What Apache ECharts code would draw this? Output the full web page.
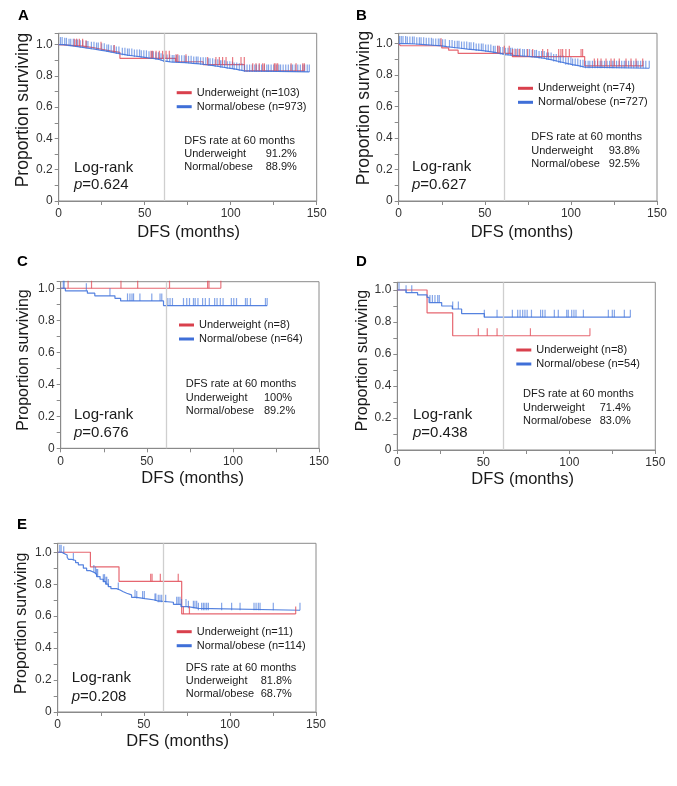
<!DOCTYPE html>
<html><head><meta charset="utf-8">
<script src="https://cdn.jsdelivr.net/npm/echarts@6/dist/echarts.min.js"></script>
<style>html,body{margin:0;padding:0;background:#fff}#c{width:677px;height:786px}</style>
</head><body><div id="c"></div>
<script>
// ---------------- DATA ----------------
const panelLetters = ['A', 'B', 'C', 'D', 'E'];
const redNames = ['Underweight (n=103)', 'Underweight (n=74)', 'Underweight (n=8)', 'Underweight (n=8)', 'Underweight (n=11)'];
const blueNames = ['Normal/obese (n=973)', 'Normal/obese (n=727)', 'Normal/obese (n=64)', 'Normal/obese (n=54)', 'Normal/obese (n=114)'];
const rateTitle = 'DFS rate at 60 months';
const redRate60 = ['91.2%', '93.8%', '100%', '71.4%', '81.8%'];
const blueRate60 = ['88.9%', '92.5%', '89.2%', '83.0%', '68.7%'];
const pValues = ['0.624', '0.627', '0.676', '0.438', '0.208'];
const xAxisTitle = 'DFS (months)';
const yAxisTitle = 'Proportion surviving';
const xTickValues = [0, 50, 100, 150];
const yTickValues = [0, 0.2, 0.4, 0.6, 0.8, 1.0];
const refLineMonth = 61.5;

// Panel A
const aRedSteps = [[0,1],[1,0.99],[14,0.98],[20,0.97],[25,0.96],[30,0.95],[35.6,0.912],[68,0.89],[84,0.872],[108,0.832],[142.8,0.832]];
const aRedCensor = [9.1,10.4,12,13.9,15.9,24.6,32.3,53.7,54.6,56.6,58.5,60.4,62.4,64.3,68.2,69.2,74,86.6,91.4,93.4,95.3,97.3,101.1,106,107.9,112.8,114.7,116.6,118.6,119.6,125.4,126.3,127.3,135.1,138,141.9,142.8];
const aBlueSteps = [[0,1],[3,0.995],[6,0.99],[9,0.985],[12,0.98],[15,0.975],[18,0.97],[21,0.965],[24,0.96],[27,0.953],[30,0.947],[33,0.94],[36,0.932],[40,0.927],[44,0.921],[48,0.915],[52,0.91],[56,0.903],[59,0.896],[61,0.889],[65,0.886],[70,0.884],[74,0.88],[78,0.876],[82,0.871],[86,0.865],[90,0.858],[94,0.851],[98,0.845],[102,0.838],[105,0.832],[108,0.825],[145.7,0.825]];
const aBlueCensor = [1,2,3.5,4.5,6,7,8.5,10,11,12.5,14,16,17,19,20.5,22,23,25,26.5,28,29,30.5,32,33.5,35,37,38.5,40,41,42.5,44,45.5,47,48,49.5,51,52.5,54,55,56.5,58,59.5,61,63,64.5,66,67,68.5,70,71.5,73,74,75.5,77,78.5,80,81,82.5,84,85.5,87,88,89.5,91,92.5,94,95,96.5,98,99.5,101,102,103.5,105,106.5,108,109.5,111,112.5,114,115,116.5,118,119.5,121,122,123.5,125,126.5,128,129,130.5,132,133.5,135,136,137.5,139,140.5,142,143,144.5,145.7];

// Panel B
const bRedSteps = [[0,1],[1,0.986],[25,0.972],[29,0.958],[34.5,0.938],[66,0.917],[108,0.858],[142,0.858]];
const bRedCensor = [24.6,57.5,58.4,61.3,64.2,66.2,68.1,70,74.9,77.8,83.6,86.5,92.9,94.2,95.2,97.1,99.1,105.9,106.8,113.6,115.5,117.5,120.4,123.3,125.2,128.1,132,134.9,137.8,141.7];
const bBlueSteps = [[0,1],[5,0.997],[10,0.993],[15,0.989],[20,0.985],[25,0.98],[28,0.975],[32,0.97],[36,0.965],[40,0.96],[45,0.953],[50,0.946],[55,0.938],[59,0.93],[62,0.925],[67,0.921],[72,0.917],[77,0.912],[81,0.905],[85,0.896],[89,0.886],[93,0.876],[97,0.866],[101,0.858],[105,0.85],[108,0.843],[145.5,0.843]];
const bBlueCensor = [0.5,1.5,2.5,4,5,6.5,8,9,10.5,12,13,14.5,16,17.5,19,20,21.5,23,24,25.5,27,29.5,31,32.5,34,35,36.5,38,39.5,41,42,43.5,45,46.5,48,49,50.5,52,53.5,55,56,57.5,59,60.5,62,63.5,65,66,67.5,69,70.5,72,73,74.5,76,77.5,79,80,81.5,83,84.5,86,87,88.5,90,91.5,93,94,95.5,97,98.5,100,101,102.5,104,105.5,107,108.5,110,111,112.5,114,115.5,117,118,119.5,121,122.5,124,125,126.5,128,129.5,131,132,133.5,135,136.5,138,139,140.5,142,143.5,145.5];

// Panel C
const cRedSteps = [[0,1],[93,1]];
const cRedCensor = [4.3,17.9,35,44.7,63.2,85.3,86.1,93];
const cBlueSteps = [[0,1],[2.7,0.984],[15.5,0.969],[19.8,0.953],[31.5,0.937],[34.8,0.921],[59.7,0.892],[119.9,0.892]];
const cBlueCensor = [1.5,2,14.9,28.6,38.8,40.2,41.4,42.3,46,52.9,57.7,58.7,62.2,63.5,64.9,71.3,73.2,74.8,77.1,78.1,79.7,82.4,84,86.3,89.4,90.8,92.7,94.3,99.1,100.5,102.1,107.3,108.3,110.2,118.9,119.9];

// Panel D
const dRedSteps = [[0,1],[17.3,0.857],[32.2,0.714],[112,0.714]];
const dRedCensor = [47.1,52.3,58,77.4,112];
const dBlueSteps = [[0,1],[5.1,0.983],[11.8,0.969],[17.3,0.954],[18.5,0.921],[25.8,0.9],[32,0.881],[37.4,0.852],[50.6,0.83],[135.5,0.83]];
const dBlueCensor = [1,5.1,8.4,19,20.4,21.9,23.5,24.4,32.2,35.5,50.6,58,66.9,70,71.4,72.9,74.2,75.5,78,83.3,84.5,85.9,91.3,93.6,98.5,99.4,101.4,102.7,103.9,108.2,122.7,125,126.2,132,135.5];

// Panel E
const eRedSteps = [[0,1],[19,0.909],[35.6,0.818],[72,0.614],[138.2,0.614]];
const eRedCensor = [54,54.8,59.6,70,73,76.5,138.2];
const eBlueSteps = [[0,1],[2.3,0.991],[4,0.983],[5.5,0.969],[6.2,0.956],[8.1,0.948],[10.4,0.935],[12,0.921],[14.9,0.9],[16.8,0.885],[18.8,0.873],[21.3,0.862],[22.6,0.848],[24.6,0.831],[26.5,0.816],[27.9,0.8],[29.4,0.785],[30.9,0.772],[34.2,0.764],[36.2,0.753],[38.1,0.743],[40.1,0.733],[42.9,0.718],[45.9,0.71],[50.7,0.701],[56.5,0.695],[58,0.687],[67.2,0.674],[71.6,0.66],[75.5,0.649],[81.7,0.637],[140.7,0.637]];
const eBlueCensor = [1.2,2,3.5,9.1,21,22,22.6,23.2,26.5,27.2,28,28.5,29.4,35.2,44.9,45.9,49.3,50.3,56.5,57,58.4,59.4,60.4,62.7,69.1,70,71,71.9,74.5,75.9,78.8,79.7,80.7,81.7,83.6,84.6,85.5,86.5,87.5,95.2,101,105.9,114,115.2,116.5,117.5,125.2,140.7];

const redSteps = [aRedSteps, bRedSteps, cRedSteps, dRedSteps, eRedSteps];
const redCensor = [aRedCensor, bRedCensor, cRedCensor, dRedCensor, eRedCensor];
const blueSteps = [aBlueSteps, bBlueSteps, cBlueSteps, dBlueSteps, eBlueSteps];
const blueCensor = [aBlueCensor, bBlueCensor, cBlueCensor, dBlueCensor, eBlueCensor];

// ---------------- LAYOUT (pixels) ----------------
const layout = [
  {l:58.7, r:316.7, t:33.3, b:201, ymax:1.072, letter:[18,15.5], ylab:[23.5,110,17.5], xlab:[188.7,232], leg:[176.7,85.7], rate:[184.3,141,265.7,13], lr:[74,167.7,185]},
  {l:398.7, r:657, t:33.3, b:201, ymax:1.065, letter:[356,15.5], ylab:[364,108,17.5], xlab:[522,232], leg:[518,81.3], rate:[531.3,137.3,608.7,13.5], lr:[412,166.7,185]},
  {l:60.7, r:319, t:281.7, b:448.3, ymax:1.041, letter:[17,262], ylab:[23.5,360,16], xlab:[192.7,478], leg:[179,318], rate:[185.7,384.3,264,13.2], lr:[74,415,432.7]},
  {l:397.3, r:655.3, t:282.3, b:450, ymax:1.048, letter:[356,262], ylab:[362.5,360.5,16], xlab:[522.7,479], leg:[516.3,343], rate:[523,394.3,599.7,13.3], lr:[413,415,433.3]},
  {l:57.7, r:316, t:543.3, b:712, ymax:1.056, letter:[17,525], ylab:[21.7,623.3,16], xlab:[177.7,741.7], leg:[176.7,624.7], rate:[185.7,668.3,260.7,13], lr:[71.7,678.3,696.7]}
];

const FONT = '"Liberation Sans", Arial, Helvetica, sans-serif';
const RED = '#e24b57';
const BLUE = '#4274dc';
const AXIS = '#8a8a8a';
const TXT = '#1a1a1a';

function survivalAt(steps, t) {
  let v = steps[0][1];
  for (const s of steps) { if (s[0] <= t) v = s[1]; }
  return v;
}

const grids = [], xAxes = [], yAxes = [], series = [], legends = [], graphics = [];
layout.forEach((L, i) => {
  grids.push({left: L.l, top: L.t, width: L.r - L.l, height: L.b - L.t, show: true, borderColor: AXIS, borderWidth: 1, backgroundColor: 'transparent'});
  xAxes.push({
    gridIndex: i, type: 'value', min: xTickValues[0], max: xTickValues[xTickValues.length - 1], interval: xTickValues[1] - xTickValues[0],
    axisLine: {show: true, onZero: false, lineStyle: {color: AXIS, width: 1}},
    axisTick: {show: true, length: 4, lineStyle: {color: AXIS}},
    minorTick: {show: true, splitNumber: 2, length: 4, lineStyle: {color: AXIS}},
    splitLine: {show: false},
    axisLabel: {fontSize: 12, color: '#333', margin: 7, fontFamily: FONT}
  });
  yAxes.push({
    gridIndex: i, type: 'value', min: yTickValues[0], max: L.ymax, interval: yTickValues[1] - yTickValues[0],
    axisLine: {show: true, onZero: false, lineStyle: {color: AXIS, width: 1}},
    axisTick: {show: true, length: 4, lineStyle: {color: AXIS}},
    minorTick: {show: true, splitNumber: 2, length: 4, lineStyle: {color: AXIS}},
    splitLine: {show: false},
    axisLabel: {fontSize: 12, color: '#333', margin: 6, fontFamily: FONT, showMaxLabel: false,
      formatter: v => (Math.abs(v) < 1e-9 ? '0' : v.toFixed(1))}
  });
  series.push({
    type: 'line', name: redNames[i], xAxisIndex: i, yAxisIndex: i, data: redSteps[i], step: 'end',
    symbol: 'none', silent: true, z: 2,
    lineStyle: {color: RED, width: 1.2, opacity: 0.85}, itemStyle: {color: RED}
  });
  series.push({
    type: 'line', name: blueNames[i], xAxisIndex: i, yAxisIndex: i, data: blueSteps[i], step: 'end',
    symbol: 'none', silent: true, z: 3,
    lineStyle: {color: BLUE, width: 1.2, opacity: 0.9}, itemStyle: {color: BLUE},
    markLine: {silent: true, symbol: ['none', 'none'], label: {show: false}, animation: false,
      lineStyle: {color: '#cfcfcf', width: 1.3, type: 'solid'}, data: [{xAxis: refLineMonth}]}
  });
  series.push({
    type: 'scatter', name: blueNames[i], xAxisIndex: i, yAxisIndex: i, silent: true, z: 4,
    data: blueCensor[i].map(t => [t, survivalAt(blueSteps[i], t)]),
    symbol: 'rect', symbolSize: [1.2, 7.5], symbolOffset: [0, -3.75],
    itemStyle: {color: BLUE, opacity: 0.65}
  });
  series.push({
    type: 'scatter', name: redNames[i], xAxisIndex: i, yAxisIndex: i, silent: true, z: 5,
    data: redCensor[i].map(t => [t, survivalAt(redSteps[i], t)]),
    symbol: 'rect', symbolSize: [1.2, 7.5], symbolOffset: [0, -3.75],
    itemStyle: {color: RED, opacity: 0.75}
  });
  legends.push({
    left: L.leg[0], top: L.leg[1], orient: 'vertical', padding: 0, itemGap: 0,
    itemWidth: 15, itemHeight: 3, icon: 'rect', selectedMode: false,
    textStyle: {fontSize: 11, lineHeight: 14, color: TXT, fontFamily: FONT},
    data: [{name: redNames[i], itemStyle: {color: '#d9404d'}}, {name: blueNames[i], itemStyle: {color: '#3f6fd8'}}]
  });
  graphics.push({type: 'text', x: L.letter[0], y: L.letter[1],
    style: {text: panelLetters[i], font: 'bold 15px ' + FONT, fill: '#000', align: 'left', verticalAlign: 'middle'}});
  graphics.push({type: 'text', x: L.ylab[0], y: L.ylab[1], rotation: Math.PI / 2,
    style: {text: yAxisTitle, font: L.ylab[2] + 'px ' + FONT, fill: TXT, align: 'center', verticalAlign: 'middle'}});
  graphics.push({type: 'text', x: L.xlab[0], y: L.xlab[1],
    style: {text: xAxisTitle, font: '16.5px ' + FONT, fill: TXT, align: 'center', verticalAlign: 'middle'}});
  const R = L.rate;
  graphics.push({type: 'text', x: R[0], y: R[1], style: {text: rateTitle, font: '11px ' + FONT, fill: TXT, align: 'left', verticalAlign: 'middle'}});
  graphics.push({type: 'text', x: R[0], y: R[1] + R[3], style: {text: 'Underweight', font: '11px ' + FONT, fill: TXT, align: 'left', verticalAlign: 'middle'}});
  graphics.push({type: 'text', x: R[2], y: R[1] + R[3], style: {text: redRate60[i], font: '11px ' + FONT, fill: TXT, align: 'left', verticalAlign: 'middle'}});
  graphics.push({type: 'text', x: R[0], y: R[1] + 2 * R[3], style: {text: 'Normal/obese', font: '11px ' + FONT, fill: TXT, align: 'left', verticalAlign: 'middle'}});
  graphics.push({type: 'text', x: R[2], y: R[1] + 2 * R[3], style: {text: blueRate60[i], font: '11px ' + FONT, fill: TXT, align: 'left', verticalAlign: 'middle'}});
  graphics.push({type: 'text', x: L.lr[0], y: L.lr[1], style: {text: 'Log-rank', font: '15px ' + FONT, fill: TXT, align: 'left', verticalAlign: 'middle'}});
  graphics.push({type: 'text', x: L.lr[0], y: L.lr[2], style: {
    text: '{i|p}=' + pValues[i], font: '15px ' + FONT, fill: TXT, align: 'left', verticalAlign: 'middle',
    rich: {i: {fontStyle: 'italic', fontSize: 15, fontFamily: FONT, fill: TXT}}}});
});

const chart = echarts.init(document.getElementById('c'), null, {renderer: 'canvas'});
chart.setOption({
  animation: false,
  backgroundColor: '#ffffff',
  textStyle: {fontFamily: FONT},
  grid: grids, xAxis: xAxes, yAxis: yAxes, series: series, legend: legends,
  graphic: {elements: graphics}
});
</script></body></html>
